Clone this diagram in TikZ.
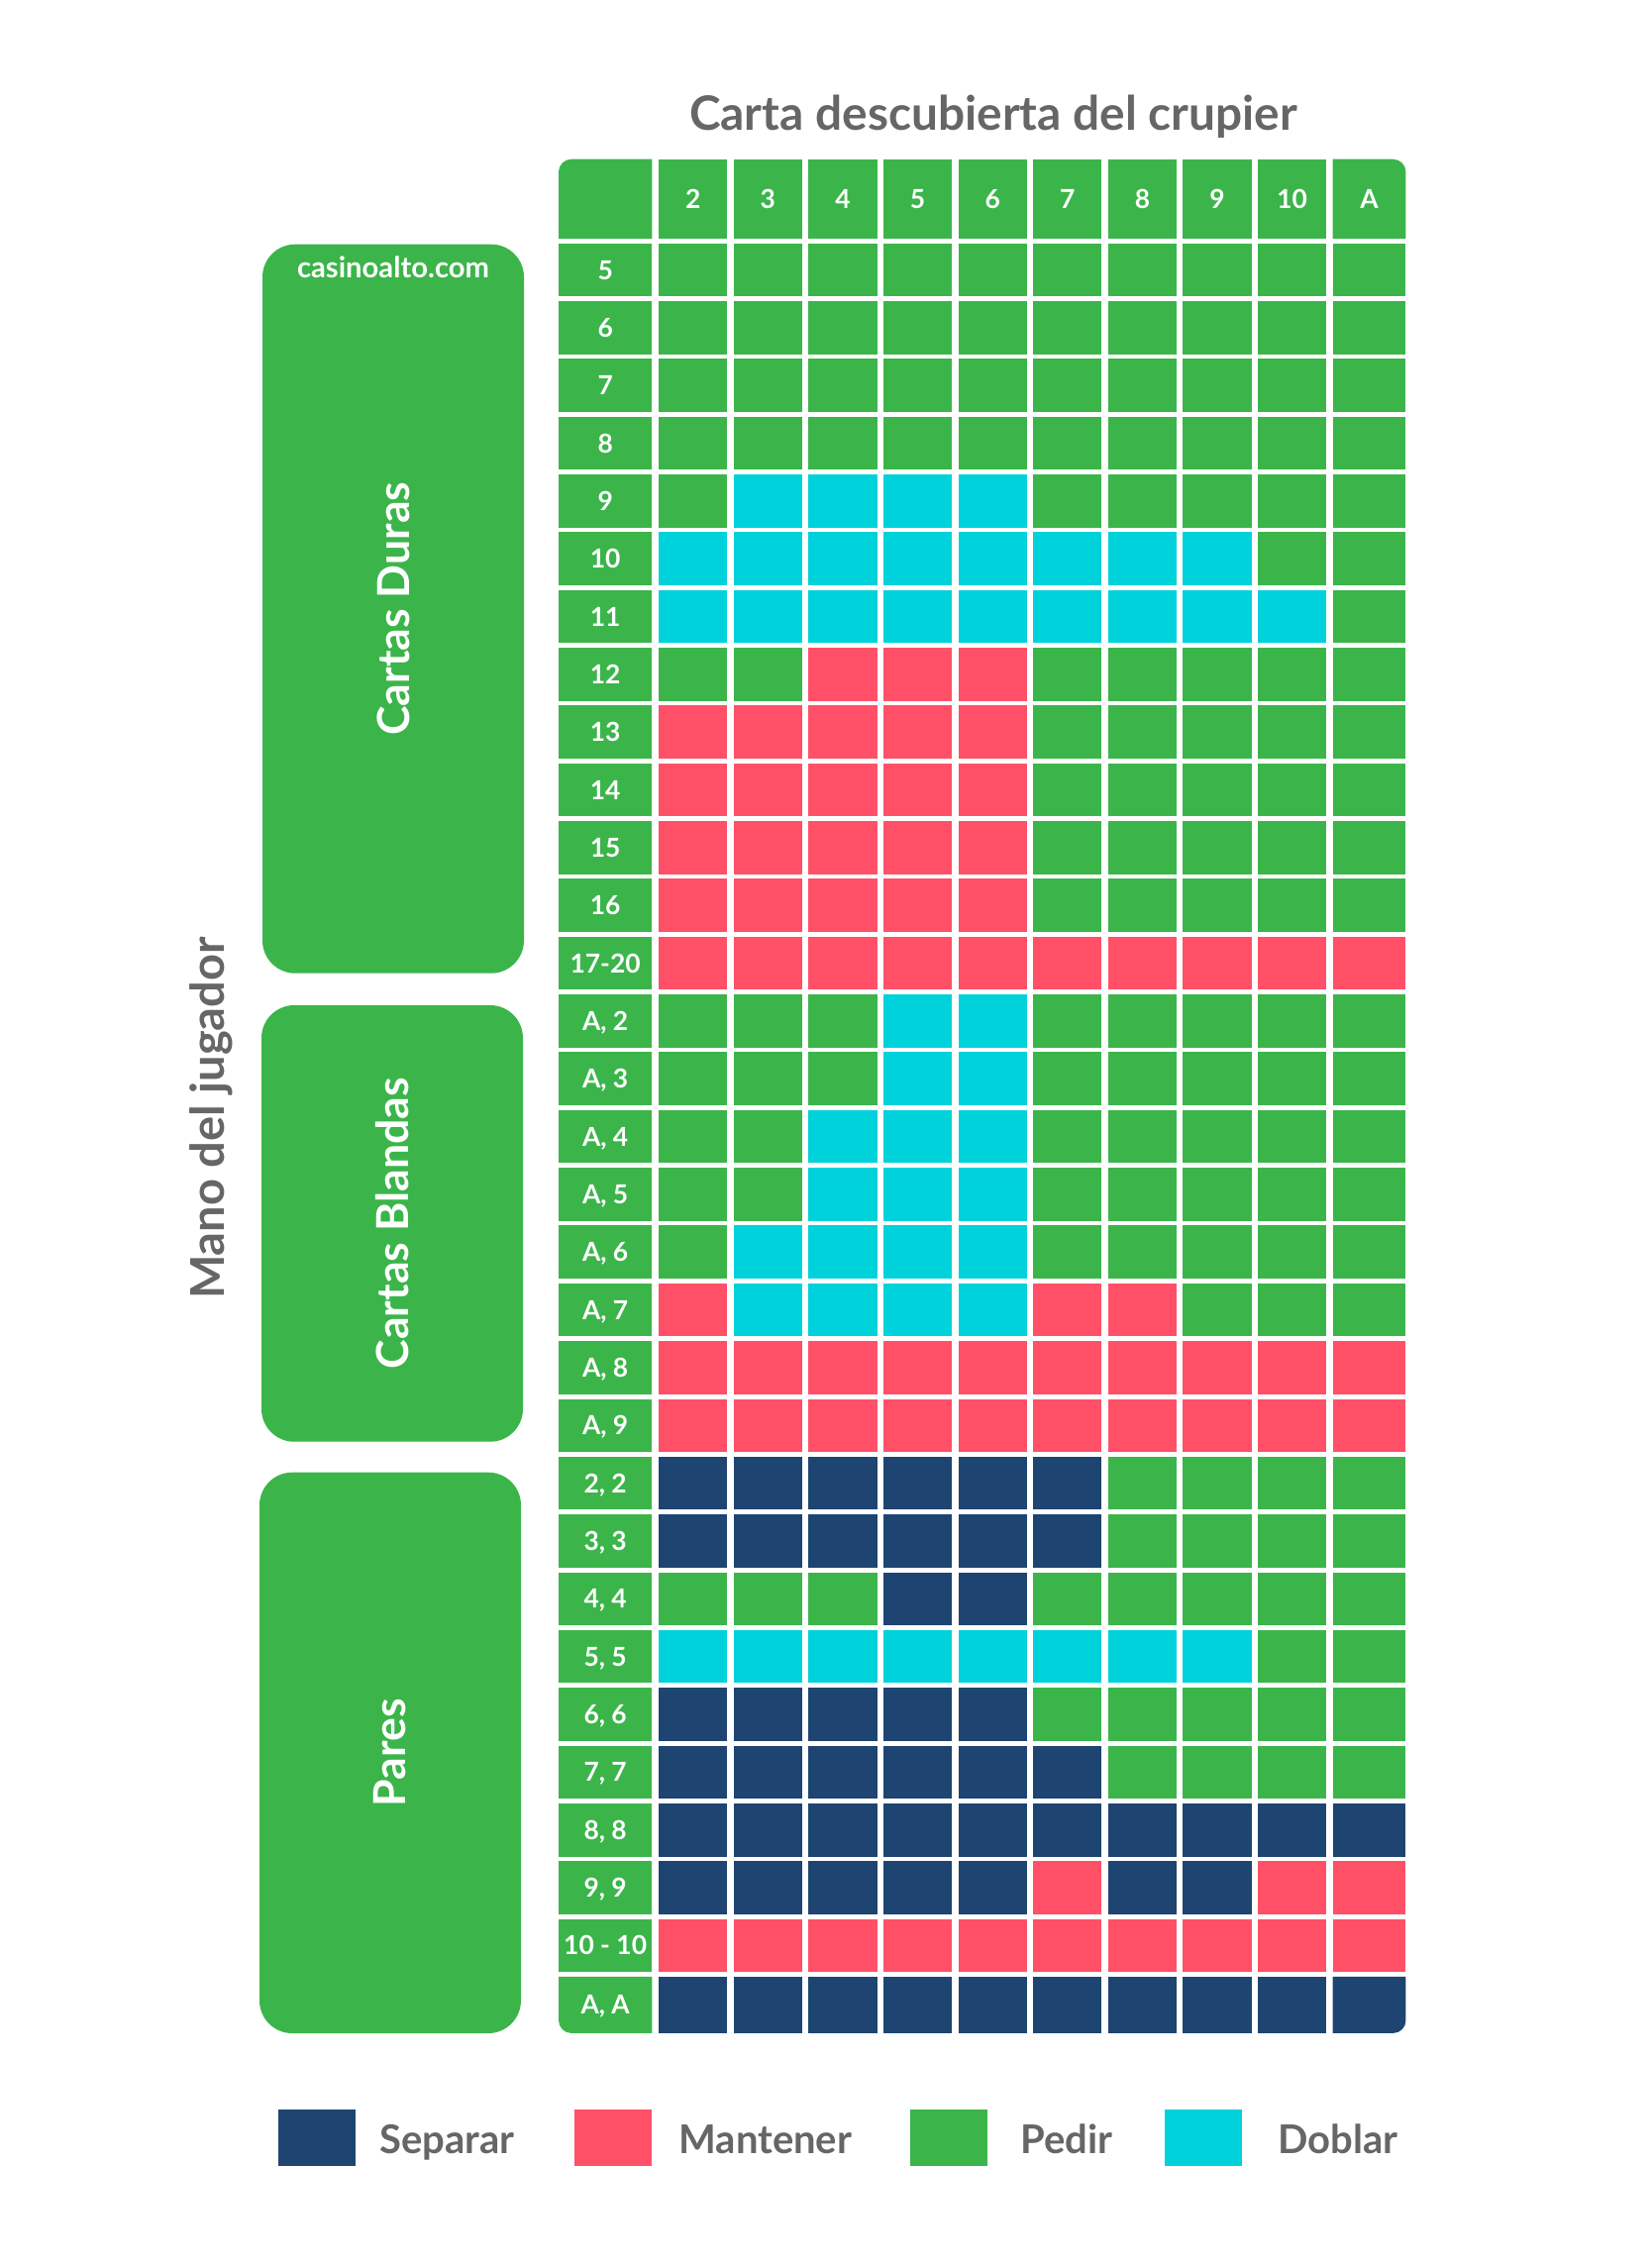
\documentclass[tikz,border=0pt]{standalone}
\usepackage{fontspec}
\setmainfont{Lato}
\usetikzlibrary{backgrounds}
\definecolor{cG}{RGB}{59,181,74}
\definecolor{cR}{RGB}{255,80,104}
\definecolor{cN}{RGB}{30,68,114}
\definecolor{cC}{RGB}{0,210,220}
\definecolor{txtgray}{RGB}{102,102,102}
\begin{document}
\begin{tikzpicture}[x=0.5pt,y=-0.5pt,
  cell/.style={rectangle,inner sep=0pt,outer sep=0pt,minimum width=34.65pt,minimum height=26.8pt},
  lbl/.style={font=\bfseries\fontsize{13.2}{14}\selectfont,text=white,text height=9.5pt,text depth=0pt},
  grp/.style={rectangle,inner sep=0pt,fill=cG,rounded corners=16.5pt,minimum width=132pt},
  grptxt/.style={rotate=90,text=white,font=\bfseries\fontsize{22.3}{26}\selectfont},
  gtitle/.style={text=txtgray,font=\bfseries\fontsize{23.9}{28}\selectfont},
  legsq/.style={rectangle,inner sep=0pt,minimum width=39pt,minimum height=28.5pt},
  legtxt/.style={text=txtgray,anchor=base west,inner sep=0pt,font=\bfseries\fontsize{20}{24}\selectfont}
]
\useasboundingbox (0,0) rectangle (1667,2287);

% title
\node[gtitle,anchor=base] (title) at (1003,131.7) {Carta descubierta del crupier};
\node[gtitle,rotate=90,font=\bfseries\fontsize{23.5}{28}\selectfont] (mano) at (213,1129) {Mano del jugador};

% group boxes
\node[grp,minimum height=368pt] (duras) at (397,614.7) {};
\node[grptxt] (durast) at (duras.center) {Cartas Duras};
\node[anchor=base,text=white,font=\bfseries\fontsize{14.6}{16}\selectfont] (site) at (397,280) {casinoalto.com};
\node[grp,minimum height=220.35pt] (blandas) at (396,1235.35) {};
\node[grptxt] (blandast) at (blandas.center) {Cartas Blandas};
\node[grp,minimum height=283.15pt] (pares) at (394,1769.85) {};
\node[grptxt] (parest) at (pares.center) {Pares};

% header row
\node[cell,minimum width=47.15pt,minimum height=40.15pt] (h0) at (611.15,200.85) {};
\foreach \lab [count=\j from 0] in {2,3,4,5,6,7,8,9,10,A} {
  \pgfmathsetmacro\w{\j==9 ? 36.9 : 34.65}
  \pgfmathsetmacro\xc{665+75.63*\j+\w}
  \ifnum\j=9 \def\fc{none}\else\def\fc{cG}\fi
  \node[cell,lbl,minimum width=\w pt,minimum height=40.15pt,fill=\fc] (hc\j) at (\xc,200.85) {\lab};
}

% body
\foreach \lab/\cols [count=\i from 0] in {
 {5}/{G,G,G,G,G,G,G,G,G,G},
 {6}/{G,G,G,G,G,G,G,G,G,G},
 {7}/{G,G,G,G,G,G,G,G,G,G},
 {8}/{G,G,G,G,G,G,G,G,G,G},
 {9}/{G,C,C,C,C,G,G,G,G,G},
 {10}/{C,C,C,C,C,C,C,C,G,G},
 {11}/{C,C,C,C,C,C,C,C,C,G},
 {12}/{G,G,R,R,R,G,G,G,G,G},
 {13}/{R,R,R,R,R,G,G,G,G,G},
 {14}/{R,R,R,R,R,G,G,G,G,G},
 {15}/{R,R,R,R,R,G,G,G,G,G},
 {16}/{R,R,R,R,R,G,G,G,G,G},
 {17-20}/{R,R,R,R,R,R,R,R,R,R},
 {A, 2}/{G,G,G,C,C,G,G,G,G,G},
 {A, 3}/{G,G,G,C,C,G,G,G,G,G},
 {A, 4}/{G,G,C,C,C,G,G,G,G,G},
 {A, 5}/{G,G,C,C,C,G,G,G,G,G},
 {A, 6}/{G,C,C,C,C,G,G,G,G,G},
 {A, 7}/{R,C,C,C,C,R,R,G,G,G},
 {A, 8}/{R,R,R,R,R,R,R,R,R,R},
 {A, 9}/{R,R,R,R,R,R,R,R,R,R},
 {2, 2}/{N,N,N,N,N,N,G,G,G,G},
 {3, 3}/{N,N,N,N,N,N,G,G,G,G},
 {4, 4}/{G,G,G,N,N,G,G,G,G,G},
 {5, 5}/{C,C,C,C,C,C,C,C,G,G},
 {6, 6}/{N,N,N,N,N,G,G,G,G,G},
 {7, 7}/{N,N,N,N,N,N,G,G,G,G},
 {8, 8}/{N,N,N,N,N,N,N,N,N,N},
 {9, 9}/{N,N,N,N,N,R,N,N,R,R},
 {10 - 10}/{R,R,R,R,R,R,R,R,R,R},
 {A, A}/{N,N,N,N,N,N,N,N,N,N}} {
  \pgfmathsetmacro\h{\i==30 ? 28.5 : 26.8}
  \pgfmathsetmacro\yc{245.7+58.34*\i+\h}
  \ifnum\i=30 \def\lf{none}\else\def\lf{cG}\fi
  \node[cell,lbl,minimum width=47.15pt,minimum height=\h pt,fill=\lf] (l\i) at (611.15,\yc) {\lab};
  \foreach \c [count=\j from 0] in \cols {
    \pgfmathsetmacro\w{\j==9 ? 36.9 : 34.65}
    \pgfmathsetmacro\xc{665+75.63*\j+\w}
    \pgfmathtruncatemacro\corner{and(\i==30,\j==9)}
    \ifnum\corner=1 \def\fc{none}\else\def\fc{c\c}\fi
    \node[cell,minimum width=\w pt,minimum height=\h pt,fill=\fc] (c\i-\j) at (\xc,\yc) {};
  }
}

% rounded corner cells
\begin{pgfonlayer}{background}
\fill[cG] (h0.south west) [rounded corners=6.5pt] -- (h0.north west) [sharp corners] -- (h0.north east) -- (h0.south east) -- cycle;
\fill[cG] (hc9.north west) [rounded corners=6.5pt] -- (hc9.north east) [sharp corners] -- (hc9.south east) -- (hc9.south west) -- cycle;
\fill[cG] (l30.north east) -- (l30.north west) [rounded corners=6.5pt] -- (l30.south west) [sharp corners] -- (l30.south east) -- cycle;
\fill[cN] (c30-9.north west) -- (c30-9.north east) [rounded corners=6.5pt] -- (c30-9.south east) [sharp corners] -- (c30-9.south west) -- cycle;
\end{pgfonlayer}

% legend
\node[legsq,fill=cN] (lsep) at (320,2158.5) {};
\node[legtxt] (lsept) at (383,2174) {Separar};
\node[legsq,fill=cR] (lman) at (618.5,2158.5) {};
\node[legtxt] (lmant) at (685,2174) {Mantener};
\node[legsq,fill=cG] (lped) at (958,2158.5) {};
\node[legtxt] (lpedt) at (1030,2174) {Pedir};
\node[legsq,fill=cC] (ldob) at (1214.5,2158.5) {};
\node[legtxt] (ldobt) at (1290,2174) {Doblar};
\end{tikzpicture}
\end{document}
